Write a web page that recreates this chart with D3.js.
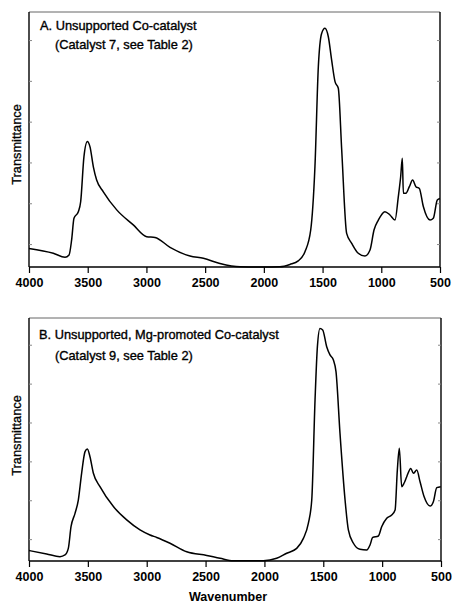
<!DOCTYPE html>
<html>
<head>
<meta charset="utf-8">
<script src="https://cdn.jsdelivr.net/npm/d3@7"></script>
<style>
  body { margin: 0; background: #fff; }
  svg { display: block; font-family: "Liberation Sans", Arial, sans-serif; }
</style>
</head>
<body>
<script>
// spectrum A (Catalyst 7)
const wavenumberA = [4000, 3793, 3693, 3659, 3637, 3617, 3580, 3560, 3532, 3503, 3481, 3452, 3424, 3367, 3253, 3112,
  2998, 2927, 2799, 2629, 2515, 2374, 2203, 2005, 1863, 1778, 1707, 1650, 1601, 1565, 1536, 1508, 1480, 1451, 1423,
  1394, 1366, 1337, 1295, 1252, 1196, 1139, 1096, 1062, 1025, 969, 926, 883, 855, 835, 821, 812, 790, 761, 733, 705,
  676, 642, 585, 557, 523, 500];
const transA = [7.3, 5.4, 3.8, 4.7, 10.6, 19.1, 21.7, 25.6, 43.3, 49.2, 47.2, 39.3, 34.1, 29.5, 22.4, 16.5,
  11.9, 11.6, 7.7, 4.3, 3.4, 1.4, 0.1, 0, 0.1, 1.0, 2.4, 6.0, 14.5, 39.3, 78.6, 91.6, 93.6, 90.3, 81.2,
  72.7, 70.1, 45.9, 13.2, 9.3, 5.4, 4.3, 6.7, 14.5, 18.4, 21.7, 20.4, 18.4, 27.6, 35.4, 42.6, 28.9, 28.9, 31.5, 34.1, 31.5,
  30.8, 23.7, 18.4, 19.1, 26.3, 26.9];

// spectrum B (Catalyst 9)
const wavenumberB = [4000, 3850, 3737, 3694, 3666, 3643, 3609, 3581, 3553, 3524, 3504, 3482, 3453, 3397, 3283, 3170,
  3057, 2972, 2915, 2802, 2660, 2490, 2377, 2264, 2009, 1896, 1811, 1726, 1669, 1627, 1598, 1570, 1550, 1528, 1505,
  1471, 1443, 1414, 1392, 1358, 1315, 1287, 1244, 1188, 1131, 1103, 1080, 1032, 1004, 961, 919, 890, 871, 854, 834,
  814, 791, 757, 735, 706, 678, 644, 593, 565, 536, 502];
const transB = [4.3, 2.9, 1.8, 2.5, 5.2, 14.1, 19.6, 25.1, 36.1, 45.0, 46.1, 42.9, 36.1, 30.6, 22.4, 16.9,
  12.8, 10.7, 9.7, 7.3, 3.8, 2.3, 1.1, 0.1, 0.1, 1.1, 3.2, 5.2, 9.3, 15.5, 25.1, 66.3, 88.2, 95.7, 95.1,
  88.2, 84.8, 82.7, 77.9, 52.5, 25.1, 12.8, 7.3, 4.8, 4.5, 6.6, 9.7, 10.3, 14.1, 17.6, 18.9, 21.0, 37.4, 46.4, 30.6,
  32.0, 34.7, 38.1, 36.1, 37.4, 32.6, 26.5, 22.6, 24.4, 30.2, 30.6];

const xTicks = [4000, 3500, 3000, 2500, 2000, 1500, 1000, 500];
const sideTicks = [9, 25, 41, 57, 73, 89];
const titlesA = ["A. Unsupported Co-catalyst", "(Catalyst 7, see Table 2)"];
const titlesB = ["B. Unsupported, Mg-promoted Co-catalyst", "(Catalyst 9, see Table 2)"];

const width = 452, height = 603;

const svg = d3.select("body").append("svg")
  .attr("width", width)
  .attr("height", height);

svg.append("rect").attr("width", width).attr("height", height).attr("fill", "#fff");

const panels = [
  {wn: wavenumberA, t: transA, titles: titlesA, left: 29, right: 440, top: 12, bottom: 267, titleY: [30, 49], titleX: [40, 55]},
  {wn: wavenumberB, t: transB, titles: titlesB, left: 29, right: 441, top: 318, bottom: 561, titleY: [339, 360], titleX: [39, 55]}
];

panels.forEach((p, i) => {
  const x = d3.scaleLinear().domain([4000, 500]).range([p.left, p.right]);
  const y = d3.scaleLinear().domain([0, 100]).range([p.bottom, p.top]);
  const g = svg.append("g");

  // frame: faint top, solid sides
  g.append("line")
    .attr("x1", p.left).attr("x2", p.right)
    .attr("y1", p.top).attr("y2", p.top)
    .attr("stroke", "#666").attr("stroke-width", 1);
  [p.left, p.right].forEach(px => {
    g.append("line")
      .attr("x1", px).attr("x2", px)
      .attr("y1", p.top).attr("y2", p.bottom)
      .attr("stroke", "#000").attr("stroke-width", 1.4);
  });

  // small inward ticks on the sides
  g.append("g")
    .attr("transform", `translate(${p.left},0)`)
    .call(d3.axisRight(y).tickValues(sideTicks).tickSize(3).tickFormat(""))
    .call(a => a.select(".domain").remove())
    .selectAll("line").attr("stroke", "#888");
  g.append("g")
    .attr("transform", `translate(${p.right},0)`)
    .call(d3.axisLeft(y).tickValues(sideTicks).tickSize(3).tickFormat(""))
    .call(a => a.select(".domain").remove())
    .selectAll("line").attr("stroke", "#888");

  // bottom axis
  const xAxis = g.append("g")
    .attr("transform", `translate(0,${p.bottom})`)
    .call(d3.axisBottom(x).tickValues(xTicks).tickSize(6).tickSizeOuter(0).tickFormat(d3.format("d")));
  xAxis.select(".domain").attr("stroke-width", 1.4).attr("d", `M${p.left},0H${p.right}`);
  xAxis.selectAll(".tick line").attr("stroke-width", 1.2);
  xAxis.selectAll(".tick text")
    .attr("y", 20).attr("dy", 0)
    .attr("fill", "#000")
    .style("font-size", "12.5px")
    .style("font-weight", "bold")
    .style("font-family", "'Liberation Sans', Arial, sans-serif");

  // spectrum
  const line = d3.line()
    .x((d, k) => x(p.wn[k]))
    .y(d => y(d))
    .curve(d3.curveMonotoneX);
  g.append("path")
    .datum(p.t)
    .attr("fill", "none")
    .attr("stroke", "#000")
    .attr("stroke-width", 1.5)
    .attr("stroke-linejoin", "round")
    .attr("d", line);

  // titles
  p.titles.forEach((s, k) => {
    g.append("text")
      .attr("x", p.titleX[k]).attr("y", p.titleY[k])
      .attr("stroke", "#000").attr("stroke-width", 0.35)
      .style("font-size", "12.8px")
      .text(s);
  });

  // y label
  const cy = (p.top + p.bottom) / 2 + (i === 0 ? 5 : -4);
  g.append("text")
    .attr("transform", `translate(21,${cy}) rotate(-90)`)
    .attr("text-anchor", "middle")
    .attr("stroke", "#000").attr("stroke-width", 0.3)
    .style("font-size", "12.8px")
    .text("Transmittance");
});

svg.append("text")
  .attr("x", 228).attr("y", 601)
  .attr("text-anchor", "middle")
  .style("font-size", "12.5px")
  .style("font-weight", "bold")
  .text("Wavenumber");
</script>
</body>
</html>
